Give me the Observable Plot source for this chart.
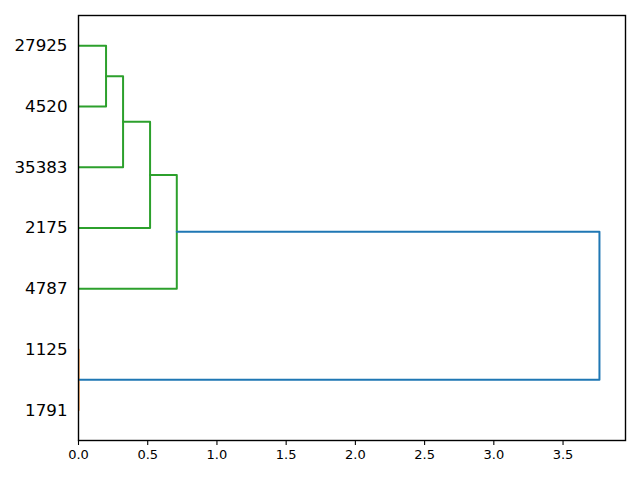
<!DOCTYPE html>
<html>
<head>
<meta charset="utf-8">
<script src="https://cdn.jsdelivr.net/npm/d3@7"></script>
<script src="https://cdn.jsdelivr.net/npm/@observablehq/plot@0.6"></script>
<style>
  html, body { margin: 0; padding: 0; background: #fff; }
  svg { font-family: "DejaVu Sans", sans-serif; }
</style>
</head>
<body>
<div id="chart"></div>
<script>
// Leaves, bottom to top (scipy dendrogram leaf order)
const leafLabels = ["1791", "1125", "4787", "2175", "35383", "4520", "27925"];
// Linkage: node ids 0..6 are leaves, 7.. are merged clusters
const mergeLeft  = [0, 6, 8, 9, 10, 7];
const mergeRight = [1, 5, 4, 3, 2, 11];
const mergeDist  = [0.0, 0.199, 0.322, 0.517, 0.710, 3.763];
const linkCluster = ["c1", "c2", "c2", "c2", "c2", "above"];
const xTicks = [0, 0.5, 1, 1.5, 2, 2.5, 3, 3.5];

// Build dendrogram U-links (scipy style)
const n = leafLabels.length;
const nodeY = leafLabels.map((_, i) => 5 + 10 * i);
const nodeH = leafLabels.map(() => 0);
const pts = [];
mergeDist.forEach((d, k) => {
  const a = mergeLeft[k], b = mergeRight[k];
  const ya = nodeY[a], yb = nodeY[b];
  const path = [[nodeH[a], ya], [d, ya], [d, yb], [nodeH[b], yb]];
  path.forEach(([x, y]) => pts.push({x, y, link: k, cluster: linkCluster[k]}));
  nodeY.push((ya + yb) / 2);
  nodeH.push(d);
});
const maxD = d3.max(mergeDist);

const chart = Plot.plot({
  width: 640,
  height: 480,
  marginLeft: 78,
  marginRight: 15,
  marginTop: 15,
  marginBottom: 40,
  style: {fontFamily: "DejaVu Sans, sans-serif", color: "#000", background: "#fff"},
  x: {domain: [0, maxD * 1.05]},
  y: {domain: [0, 10 * n]},
  color: {domain: ["c1", "c2", "above"], range: ["#ff7f0e", "#2ca02c", "#1f77b4"]},
  marks: [
    Plot.line(pts, {x: "x", y: "y", z: "link", stroke: "cluster", strokeWidth: 2, clip: true, curve: "linear"}),
    Plot.axisX({ticks: xTicks, tickFormat: d3.format(".1f"), tickSize: 5, tickPadding: 4, fontSize: 13, label: null, strokeWidth: 1.1}),
    Plot.axisY({ticks: nodeY.slice(0, n), tickFormat: (d) => leafLabels[(d - 5) / 10], tickSize: 0, tickPadding: 11, fontSize: 16.7, label: null}),
    Plot.frame({stroke: "#000", strokeWidth: 1.4})
  ]
});
document.getElementById("chart").appendChild(chart);
</script>
</body>
</html>
